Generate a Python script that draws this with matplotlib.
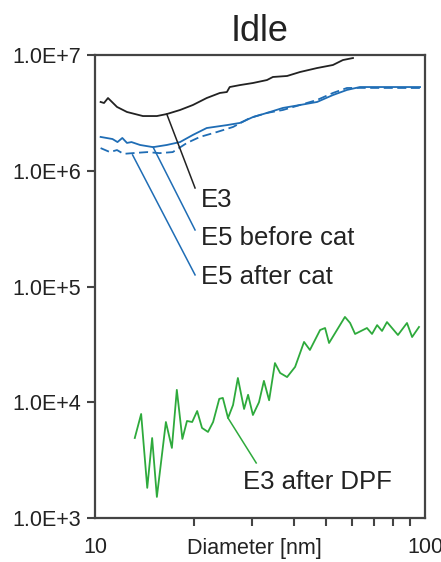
import matplotlib
matplotlib.use("Agg")
import matplotlib.pyplot as plt
from matplotlib.ticker import FixedLocator, NullFormatter

plt.rcParams['font.family'] = ['Liberation Sans', 'DejaVu Sans']

# E3 (black)
e3_x = [10.4, 10.65, 10.95, 11.66, 12.5, 13.97, 15.4, 16.5, 18.1, 19.8, 21.8, 23.9, 25.1, 25.6,
        27.5, 30.1, 33.2, 34.6, 38.2, 41.8, 47.1, 52.6, 56.4, 60.5]
e3_y = [3.93e6, 3.85e6, 4.25e6, 3.56e6, 3.22e6, 2.97e6, 2.97e6, 3.09e6, 3.35e6, 3.70e6, 4.25e6,
        4.70e6, 4.79e6, 5.29e6, 5.5e6, 5.73e6, 6.08e6, 6.46e6, 6.59e6, 7.13e6, 7.72e6, 8.2e6,
        9.05e6, 9.42e6]

# E5 before cat (blue solid)
e5b_x = [10.4, 11.3, 11.7, 12.1, 12.5, 12.9, 13.7, 15.0, 16.5, 18.1, 19.8, 21.8, 25.1, 27.5,
         30.1, 33.2, 37.1, 41.8, 47.1, 52.6, 58.0, 63.5, 96.6]
e5b_y = [1.96e6, 1.88e6, 1.77e6, 1.92e6, 1.74e6, 1.77e6, 1.67e6, 1.60e6, 1.67e6, 1.77e6, 2.04e6,
         2.34e6, 2.48e6, 2.59e6, 2.91e6, 3.16e6, 3.49e6, 3.70e6, 3.93e6, 4.51e6, 4.99e6, 5.29e6,
         5.29e6]

# E5 after cat (blue dashed)
e5a_x = [10.4, 11.1, 11.66, 12.2, 13.0, 14.4, 15.7, 17.2, 19.0, 20.8, 23.4, 26.2, 29.5, 33.2,
         37.1, 41.8, 47.1, 52.6, 58.0, 63.5, 96.6]
e5a_y = [1.57e6, 1.45e6, 1.51e6, 1.40e6, 1.42e6, 1.45e6, 1.42e6, 1.45e6, 1.74e6, 1.96e6, 2.16e6,
         2.39e6, 2.86e6, 3.16e6, 3.35e6, 3.70e6, 4.09e6, 4.70e6, 5.19e6, 5.2e6, 5.19e6]

# E3 after DPF (green)
dpf_x = [13.2, 13.8, 14.4, 14.9, 15.4, 16.4, 17.1, 17.7, 18.4, 19.0, 19.7, 20.4, 21.1, 22.0,
         22.8, 23.8, 24.4, 25.3, 26.2, 27.1, 28.3, 29.1, 30.1, 31.4, 32.5, 33.7, 35.1, 36.4,
         38.2, 40.4, 43.0, 44.8, 48.1, 49.8, 51.2, 57.2, 59.3, 61.4, 66.7, 69.1, 71.6, 74.1,
         76.7, 82.8, 88.2, 91.4, 95.9]
dpf_y = [4.91e3, 7.92e3, 1.82e3, 4.91e3, 1.52e3, 6.75e3, 4.03e3, 1.28e4, 4.82e3, 6.89e3, 6.75e3,
         8.4e3, 6.0e3, 5.54e3, 6.75e3, 1.07e4, 1.09e4, 7.31e3, 9.46e3, 1.62e4, 8.75e3, 1.16e4,
         7.76e3, 1.0e4, 1.53e4, 1.04e4, 2.18e4, 1.79e4, 1.65e4, 2.02e4, 3.32e4, 2.83e4, 4.21e4,
         4.38e4, 3.25e4, 5.46e4, 4.84e4, 3.89e4, 4.38e4, 3.89e4, 4.64e4, 4.13e4, 4.93e4, 3.81e4,
         4.84e4, 3.66e4, 4.47e4]

black = '#222222'
blue = '#1f6db5'
green = '#2eaa3c'

fig = plt.figure(figsize=(4.41, 5.62), dpi=100)
ax = fig.add_axes([0.2154, 0.0783, 0.7483, 0.8238])

ax.plot(e3_x, e3_y, color=black, lw=1.3)
ax.plot(e5b_x, e5b_y, color=blue, lw=1.3)
ax.plot(e5a_x, e5a_y, color=blue, lw=1.3, ls=(0, (5, 2.5)))
ax.plot(dpf_x, dpf_y, color=green, lw=1.3)

# leader lines + labels: (name, color, curve point, line end, text pos)
labels = [
    ("E3", black, (16.5, 3.09e6), (20.1, 7.1e5), (20.9, 5.59e5)),
    ("E5 before cat", blue, (15.0, 1.60e6), (20.1, 3.08e5), (20.9, 2.62e5)),
    ("E5 after cat", blue, (13.0, 1.37e6), (20.1, 1.26e5), (20.9, 1.21e5)),
    ("E3 after DPF", green, (25.3, 7.31e3), (30.8, 2.99e3), (28.1, 2.05e3)),
]
for name, c, p0, p1, pt in labels:
    ax.plot([p0[0], p1[0]], [p0[1], p1[1]], color=c, lw=1.1)
    ax.text(pt[0], pt[1], name, fontsize=18.5, color='#222222', ha='left', va='center')

ax.set_xscale('log')
ax.set_yscale('log')
ax.set_xlim(10, 100)
ax.set_ylim(1e3, 1e7)

ax.set_yticks([1e3, 1e4, 1e5, 1e6, 1e7])
ax.set_yticklabels(['1.0E+3', '1.0E+4', '1.0E+5', '1.0E+6', '1.0E+7'])
ax.yaxis.set_minor_locator(FixedLocator([]))
ax.set_xticks([10, 100])
ax.set_xticklabels(['10', '100'])
ax.xaxis.set_minor_locator(FixedLocator([20, 30, 40, 50, 60, 70, 80, 90]))
ax.xaxis.set_minor_formatter(NullFormatter())

ax.tick_params(axis='y', which='major', direction='out', length=6, width=1.5,
               color='#444444', labelsize=15.5, labelcolor='#222222', pad=4)
ax.tick_params(axis='x', which='major', length=0, labelsize=15.5, labelcolor='#222222', pad=14)
ax.tick_params(axis='x', which='minor', direction='out', length=6, width=1.5, color='#444444')

for s in ax.spines.values():
    s.set_color('#444444')
    s.set_linewidth(1.6)

ax.set_xlabel('Diameter [nm]', fontsize=15.5, color='#222222')
ax.xaxis.set_label_coords(0.482, -0.065)
ax.xaxis.label.set_va('center')

ax.set_title('Idle', fontsize=26, color='#222222', pad=10)

fig.savefig('out.png', dpi=100)
